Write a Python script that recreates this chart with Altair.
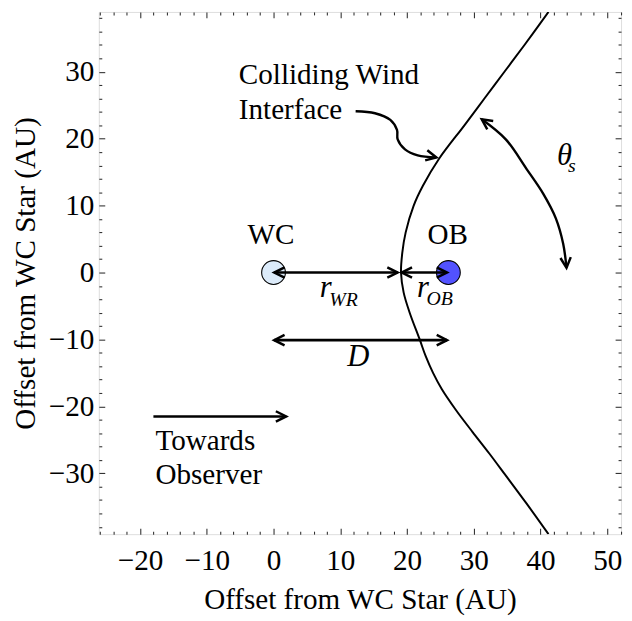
import altair as alt
import pandas as pd

FONT = "Liberation Serif"

# ---------------- data (AU) ----------------
# colliding wind interface (top -> bottom)
curve_x = [41.2, 37.6, 34.6, 31.6, 28.6, 24.8, 22.4, 21.0, 19.8, 19.3, 19.1,
           19.5, 20.4, 21.9, 22.8, 23.9, 25.2, 27.3, 29.8, 32.3, 34.7, 37.9, 41.2]
curve_y = [38.94, 34.0, 30.0, 26.0, 22.0, 17.0, 13.0, 10.0, 6.0, 3.0, 0.0,
           -3.0, -6.0, -10.0, -12.5, -15.0, -17.4, -20.5, -23.8, -27.0, -30.2, -34.5, -39.09]

# stars
star_names = ["WC", "OB"]
star_x = [0.0, 26.2]
star_y = [0.0, 0.0]
star_fill = ["#dcebfa", "#5252ff"]

# straight arrows (shafts)
shaft_x1 = [0.1, 19.2, 0.1, -18.0]
shaft_x2 = [18.6, 26.0, 26.0, 1.9]
shaft_y = [0.0, 0.0, -10.1, -21.5]

# curved arrows: annotation pointer and theta_s arc
pointer_x = [12.3, 15.2, 17.5, 18.5, 18.6, 19.7, 21.6, 24.4]
pointer_y = [24.1, 23.8, 22.8, 21.3, 19.9, 18.4, 17.5, 17.2]
arc_x = [31.2, 34.8, 37.9, 40.4, 42.3, 43.4, 43.9]
arc_y = [22.9, 19.9, 15.5, 11.8, 8.1, 4.3, 0.7]

# arrow heads: tip position and pointing angle (deg, clockwise from +x)
head_x = [0.1, 18.6, 19.2, 26.0, 0.1, 26.0, 1.9, 24.4, 31.2, 43.9]
head_y = [0.0, 0.0, 0.0, 0.0, -10.1, -10.1, -21.5, 17.2, 22.9, 0.7]
head_angle = [180, 0, 180, 0, 180, 0, 0, 12, 215, 85]

# text labels
plain_text = ["Colliding Wind", "Interface", "Towards", "Observer"]
plain_x = [-5.2, -5.2, -17.7, -17.7]
plain_y = [28.1, 22.9, -26.5, -31.6]

star_label_x = [-0.4, 26.1]
star_label_y = [4.25, 4.25]

sym_text = ["r", "r", "D", "θ"]
sym_x = [7.8, 22.4, 12.7, 43.6]
sym_y = [-3.7, -3.7, -14.0, 16.0]

sub_text = ["WR", "OB", "s"]
sub_x = [10.5, 24.9, 44.7]
sub_y = [-5.0, -4.9, 15.0]

# axes
x_major = [-20, -10, 0, 10, 20, 30, 40, 50]
y_major = [-30, -20, -10, 0, 10, 20, 30]
x_minor = [v for v in range(-26, 53, 2) if v % 10 != 0]
y_minor = [v for v in range(-38, 39, 2) if v % 10 != 0]
axis_title = "Offset from WC Star (AU)"

# ---------------- scales / axes ----------------
xs = alt.Scale(domain=[-26.18, 52.07], nice=False, zero=False)
ys = alt.Scale(domain=[-39.09, 38.94], nice=False, zero=False)

MAJ, MIN = 6, 3
TICKC = "#333333"


def tick_axis(orient, values, size):
    return alt.Axis(orient=orient, values=values, tickSize=size, offset=-size,
                    domain=False, grid=False, labels=False, title=None,
                    tickColor=TICKC, tickWidth=1.1)


ax_bottom = alt.Axis(orient="bottom", values=x_major, tickSize=MAJ, offset=-MAJ,
                     domain=False, grid=False, tickColor=TICKC, tickWidth=1.1,
                     labelFont=FONT, labelFontSize=29.5, labelColor="black",
                     labelPadding=13, labelFlush=False, labelOverlap=False,
                     title=axis_title, titleFont=FONT, titleFontSize=29.5,
                     titleFontWeight="normal", titleColor="black", titlePadding=11)
ax_left = alt.Axis(orient="left", values=y_major, tickSize=MAJ, offset=-MAJ,
                   domain=False, grid=False, tickColor=TICKC, tickWidth=1.1,
                   labelFont=FONT, labelFontSize=29.5, labelColor="black",
                   labelPadding=5, labelFlush=False, labelOverlap=False,
                   title=axis_title, titleFont=FONT, titleFontSize=29.5,
                   titleFontWeight="normal", titleColor="black", titlePadding=8)

# ---------------- layers ----------------
curve_df = pd.DataFrame({"x": curve_x, "y": curve_y, "i": list(range(len(curve_x)))})
curve = alt.Chart(curve_df).mark_line(color="black", strokeWidth=2,
                                      interpolate="catmull-rom", clip=True).encode(
    x=alt.X("x:Q", scale=xs, axis=ax_bottom),
    y=alt.Y("y:Q", scale=ys, axis=ax_left),
    order="i:Q",
)

star_df = pd.DataFrame({"name": star_names, "x": star_x, "y": star_y, "fill": star_fill})
stars = alt.Chart(star_df).mark_point(filled=True, shape="circle", size=580,
                                      stroke="black", strokeWidth=1.1, opacity=1).encode(
    x=alt.X("x:Q", scale=xs, axis=tick_axis("top", x_major, MAJ)),
    y=alt.Y("y:Q", scale=ys, axis=tick_axis("right", y_major, MAJ)),
    fill=alt.Fill("fill:N", scale=None),
)

shaft_df = pd.DataFrame({"x": shaft_x1, "x2": shaft_x2, "y": shaft_y})
shafts = alt.Chart(shaft_df).mark_rule(color="black", strokeWidth=2.6).encode(
    x=alt.X("x:Q", scale=xs, axis=tick_axis("bottom", x_minor, MIN)),
    x2="x2:Q",
    y=alt.Y("y:Q", scale=ys, axis=tick_axis("left", y_minor, MIN)),
)

curves_df = pd.concat([
    pd.DataFrame({"g": "pointer", "x": pointer_x, "y": pointer_y,
                  "i": list(range(len(pointer_x)))}),
    pd.DataFrame({"g": "arc", "x": arc_x, "y": arc_y, "i": list(range(len(arc_x)))}),
])
curved = alt.Chart(curves_df).mark_line(color="black", strokeWidth=2.4,
                                        interpolate="catmull-rom").encode(
    x=alt.X("x:Q", scale=xs, axis=None),
    y=alt.Y("y:Q", scale=ys, axis=None),
    detail="g:N",
    order="i:Q",
)

head_df = pd.DataFrame({"x": head_x, "y": head_y, "a": head_angle})
heads = alt.Chart(head_df).mark_point(shape="M-2,-1L0,0L-2,1", size=110, filled=False,
                                      stroke="black", strokeWidth=2.5, opacity=1,
                                      strokeJoin="miter", strokeCap="butt").encode(
    x=alt.X("x:Q", scale=xs, axis=tick_axis("top", x_minor, MIN)),
    y=alt.Y("y:Q", scale=ys, axis=tick_axis("right", y_minor, MIN)),
    angle=alt.Angle("a:Q", scale=None),
)

plain_df = pd.DataFrame({"t": plain_text, "x": plain_x, "y": plain_y})
plain = alt.Chart(plain_df).mark_text(font=FONT, fontSize=29.5, align="left",
                                      baseline="alphabetic", color="black").encode(
    x=alt.X("x:Q", scale=xs, axis=None), y=alt.Y("y:Q", scale=ys, axis=None), text="t:N")

slabel_df = pd.DataFrame({"t": star_names, "x": star_label_x, "y": star_label_y})
slabels = alt.Chart(slabel_df).mark_text(font=FONT, fontSize=29.5, align="center",
                                         baseline="alphabetic", color="black").encode(
    x=alt.X("x:Q", scale=xs, axis=None), y=alt.Y("y:Q", scale=ys, axis=None), text="t:N")

sym_df = pd.DataFrame({"t": sym_text, "x": sym_x, "y": sym_y})
syms = alt.Chart(sym_df).mark_text(font=FONT, fontSize=31, fontStyle="italic", align="center",
                                   baseline="alphabetic", color="black").encode(
    x=alt.X("x:Q", scale=xs, axis=None), y=alt.Y("y:Q", scale=ys, axis=None), text="t:N")

sub_df = pd.DataFrame({"t": sub_text, "x": sub_x, "y": sub_y})
subs = alt.Chart(sub_df).mark_text(font=FONT, fontSize=20, fontStyle="italic", align="center",
                                   baseline="alphabetic", color="black").encode(
    x=alt.X("x:Q", scale=xs, axis=None), y=alt.Y("y:Q", scale=ys, axis=None), text="t:N")

chart = alt.layer(curve, stars, shafts, curved, heads, plain, slabels, syms, subs).resolve_axis(
    x="independent", y="independent"
).properties(
    width=529, height=529,
    autosize=alt.AutoSizeParams(type="none"),
    padding={"left": 92, "top": 0, "right": 3, "bottom": 84},
).configure_view(stroke="#444444", strokeWidth=1.3).configure(background="white")

chart.save("out.html", embed_options={"renderer": "svg", "actions": False})
